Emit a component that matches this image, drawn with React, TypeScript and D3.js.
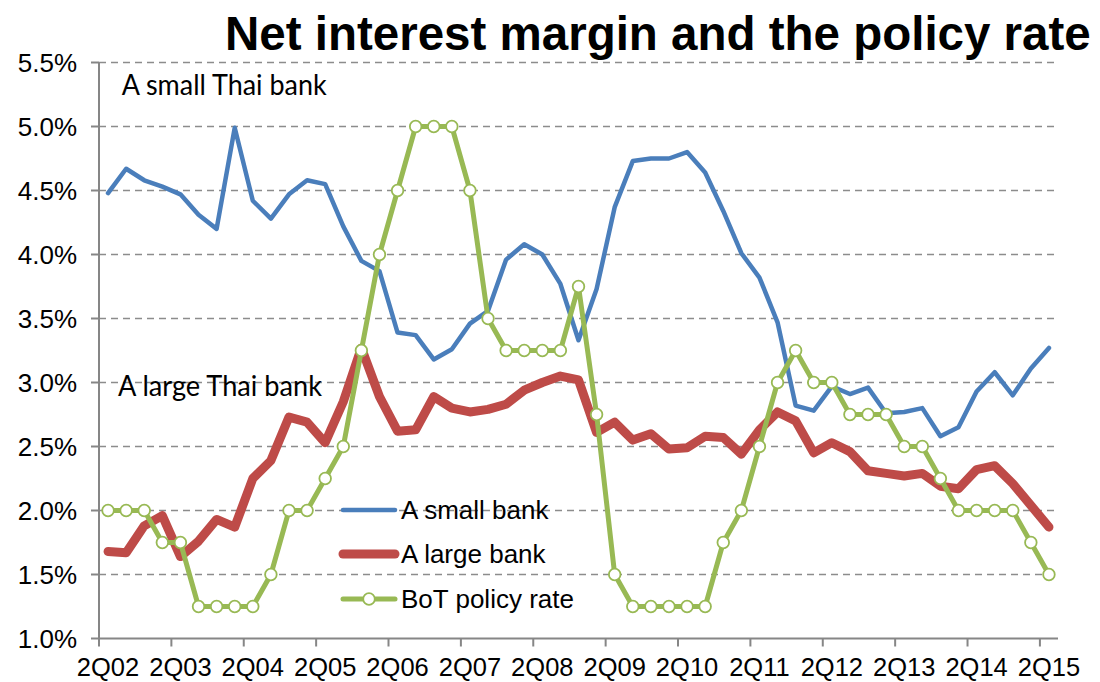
import React from "react";
import * as d3 from "d3";

const quarters = [
  "2Q02","3Q02","4Q02","1Q03","2Q03","3Q03","4Q03","1Q04","2Q04","3Q04","4Q04","1Q05",
  "2Q05","3Q05","4Q05","1Q06","2Q06","3Q06","4Q06","1Q07","2Q07","3Q07","4Q07","1Q08",
  "2Q08","3Q08","4Q08","1Q09","2Q09","3Q09","4Q09","1Q10","2Q10","3Q10","4Q10","1Q11",
  "2Q11","3Q11","4Q11","1Q12","2Q12","3Q12","4Q12","1Q13","2Q13","3Q13","4Q13","1Q14",
  "2Q14","3Q14","4Q14","1Q15","2Q15",
];

const tickLabels = ["2Q02","2Q03","2Q04","2Q05","2Q06","2Q07","2Q08","2Q09","2Q10","2Q11","2Q12","2Q13","2Q14","2Q15"];

const yTicks = [1.0, 1.5, 2.0, 2.5, 3.0, 3.5, 4.0, 4.5, 5.0, 5.5];

const smallBank = [
  4.48, 4.67, 4.58, 4.53, 4.47, 4.31, 4.20, 4.99, 4.42, 4.28, 4.47, 4.58,
  4.55, 4.22, 3.95, 3.87, 3.39, 3.37, 3.18, 3.26, 3.46, 3.56, 3.96, 4.08,
  4.00, 3.77, 3.33, 3.73, 4.37, 4.73, 4.75, 4.75, 4.80, 4.64, 4.34, 4.01,
  3.82, 3.47, 2.82, 2.78, 2.97, 2.91, 2.96, 2.76, 2.77, 2.80, 2.58, 2.65,
  2.93, 3.08, 2.90, 3.11, 3.27,
];

const largeBank = [
  1.68, 1.67, 1.88, 1.96, 1.64, 1.76, 1.93, 1.87, 2.25, 2.39, 2.73, 2.69,
  2.53, 2.85, 3.27, 2.89, 2.62, 2.63, 2.89, 2.80, 2.77, 2.79, 2.83, 2.94,
  3.00, 3.05, 3.02, 2.61, 2.69, 2.55, 2.60, 2.48, 2.49, 2.58, 2.57, 2.44,
  2.63, 2.77, 2.70, 2.45, 2.53, 2.46, 2.31, 2.29, 2.27, 2.29, 2.19, 2.17,
  2.32, 2.35, 2.21, 2.04, 1.87,
];

const policyRate = [
  2.0, 2.0, 2.0, 1.75, 1.75, 1.25, 1.25, 1.25, 1.25, 1.5, 2.0, 2.0,
  2.25, 2.5, 3.25, 4.0, 4.5, 5.0, 5.0, 5.0, 4.5, 3.5, 3.25, 3.25,
  3.25, 3.25, 3.75, 2.75, 1.5, 1.25, 1.25, 1.25, 1.25, 1.25, 1.75, 2.0,
  2.5, 3.0, 3.25, 3.0, 3.0, 2.75, 2.75, 2.75, 2.5, 2.5, 2.25, 2.0,
  2.0, 2.0, 2.0, 1.75, 1.5,
];

const BLUE = "#4A7EBB";
const RED = "#BE4B48";
const GREEN = "#98B954";
const GRID = "#8C8C8C";
const AXIS = "#868686";
const ARIAL = "'Liberation Sans', Arial, sans-serif";
const CAL = "Lato, 'Open Sans', sans-serif";

export default function App() {
  const x = d3.scaleBand<string>().domain(quarters).range([99, 1058]).padding(0);
  const y = d3.scaleLinear().domain([1.0, 5.5]).range([638.5, 62.5]);
  const cx = (i: number) => (x(quarters[i]) as number) + x.bandwidth() / 2;

  const line = d3
    .line<number>()
    .x((_, i) => cx(i))
    .y((d) => y(d));

  return (
    <svg
      width={1100}
      height={682}
      style={{ position: "absolute", left: 0, top: 0, background: "#fff" }}
    >
      <rect x={0} y={0} width={1100} height={682} fill="#fff" />
      {/* gridlines */}
      {yTicks.slice(1).map((t) => (
        <line
          key={"g" + t}
          x1={99}
          x2={1058}
          y1={y(t)}
          y2={y(t)}
          stroke={GRID}
          strokeWidth={1.6}
          strokeDasharray="7,5"
        />
      ))}
      {/* y axis */}
      <line x1={99} x2={99} y1={y(5.5)} y2={y(1.0)} stroke={AXIS} strokeWidth={2} />
      {yTicks.map((t) => (
        <g key={"y" + t}>
          <line x1={91} x2={99} y1={y(t)} y2={y(t)} stroke={AXIS} strokeWidth={2} />
          <text
            x={77}
            y={y(t) + 9}
            textAnchor="end"
            fontFamily={ARIAL}
            fontSize={26}
            fill="#000"
          >
            {t.toFixed(1) + "%"}
          </text>
        </g>
      ))}
      {/* x axis */}
      <line x1={99} x2={1058} y1={y(1.0)} y2={y(1.0)} stroke={AXIS} strokeWidth={2} />
      {tickLabels.map((lab) => (
        <g key={"x" + lab}>
          <line
            x1={x(lab) as number}
            x2={x(lab) as number}
            y1={y(1.0)}
            y2={y(1.0) + 8}
            stroke={AXIS}
            strokeWidth={2}
          />
          <text
            x={(x(lab) as number) + x.bandwidth() / 2}
            y={676}
            textAnchor="middle"
            fontFamily={ARIAL}
            fontSize={25.5}
            fill="#000"
          >
            {lab}
          </text>
        </g>
      ))}

      {/* annotations */}
      <text x={121.7} y={95} fontFamily={CAL} fontSize={28.5} textLength={205} lengthAdjust="spacingAndGlyphs" fill="#000">
        A small Thai bank
      </text>
      <text x={118} y={396} fontFamily={CAL} fontSize={28.5} textLength={204} lengthAdjust="spacingAndGlyphs" fill="#000">
        A large Thai bank
      </text>

      {/* series */}
      <path d={line(smallBank) || ""} fill="none" stroke={BLUE} strokeWidth={4.5} strokeLinejoin="round" strokeLinecap="round" />
      <path d={line(largeBank) || ""} fill="none" stroke={RED} strokeWidth={9} strokeLinejoin="round" strokeLinecap="round" />
      <path d={line(policyRate) || ""} fill="none" stroke={GREEN} strokeWidth={5} strokeLinejoin="round" strokeLinecap="round" />
      {policyRate.map((v, i) => (
        <circle key={"m" + i} cx={cx(i)} cy={y(v)} r={5.8} fill="#fff" stroke={GREEN} strokeWidth={1.8} />
      ))}

      {/* legend */}
      <line x1={343} x2={395} y1={510} y2={510} stroke={BLUE} strokeWidth={4.5} strokeLinecap="round" />
      <text x={401} y={519} fontFamily={ARIAL} fontSize={26} fill="#000">A small bank</text>
      <line x1={343} x2={395} y1={554} y2={554} stroke={RED} strokeWidth={9} strokeLinecap="round" />
      <text x={401} y={563} fontFamily={ARIAL} fontSize={26} fill="#000">A large bank</text>
      <line x1={343} x2={395} y1={599} y2={599} stroke={GREEN} strokeWidth={5} strokeLinecap="round" />
      <circle cx={369} cy={599} r={5.8} fill="#fff" stroke={GREEN} strokeWidth={1.8} />
      <text x={401} y={608} fontFamily={ARIAL} fontSize={26} fill="#000">BoT policy rate</text>

      {/* title */}
      <text x={225} y={50} fontFamily={ARIAL} fontWeight="bold" fontSize={47.5} fill="#000">
        Net interest margin and the policy rate
      </text>
    </svg>
  );
}
